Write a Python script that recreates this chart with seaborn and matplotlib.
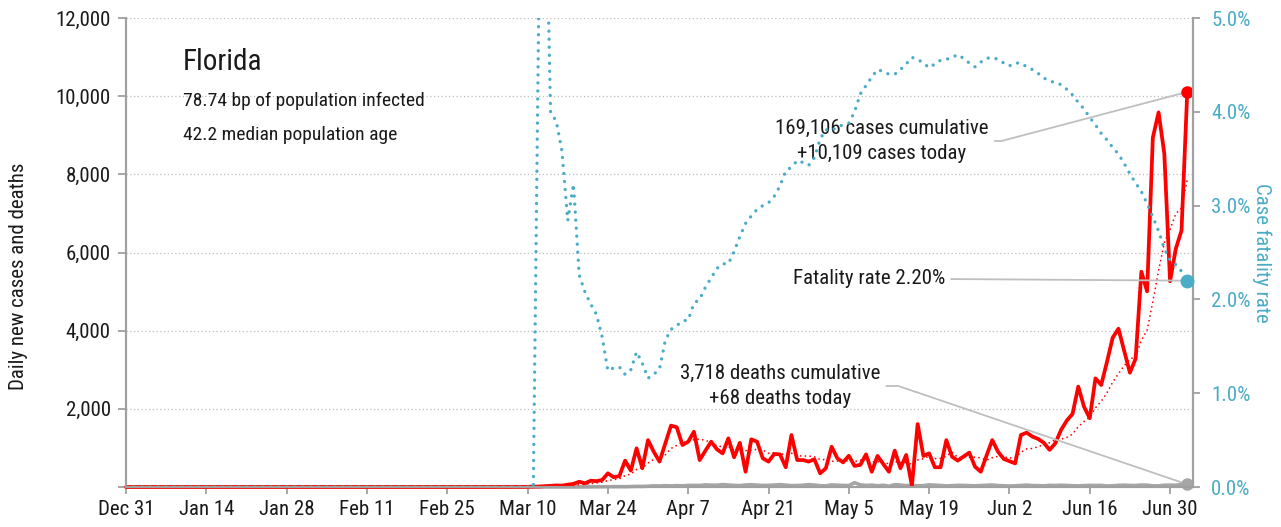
import matplotlib
matplotlib.use("Agg")
import matplotlib.pyplot as plt
from matplotlib import font_manager
import seaborn as sns
import pandas as pd

# ---- data --------------------------------------------------------------
first_day = "2019-12-31"

# daily new cases, starting Mar 1 2020
cases_start = "2020-03-01"
cases = [2, 0, 1, 0, 3, 2, 1, 4, 3, 5,
         10, 12, 20, 30, 40, 35, 60, 80, 135, 95,
         160, 150, 180, 350, 250, 280, 675, 420, 990, 480,
         1200, 900, 650, 1110, 1570, 1530, 1075, 1160, 1415, 690,
         930, 1160, 965, 860, 1245, 760, 1130, 390, 1220, 1160,
         735, 650, 845, 835, 505, 1330, 690, 690, 650, 710,
         350, 480, 1030, 735, 630, 800, 540, 565, 835, 390,
         795, 590, 390, 930, 480, 820, 30, 1610, 795, 860,
         505, 505, 1200, 775, 675, 780, 880, 520, 390, 800,
         1200, 905, 720, 660, 605, 1330, 1390, 1290, 1230, 1130,
         950, 1120, 1460, 1700, 1870, 2570, 2055, 1760, 2780, 2610,
         3200, 3820, 4050, 3490, 2925, 3285, 5510, 5005, 8940, 9585,
         8530, 5265, 6095, 6565, 10109]

# daily new deaths, starting Mar 12 2020
deaths_start = "2020-03-12"
deaths = [2, 0, 0, 1, 1, 2, 1, 2, 3, 2,
          5, 4, 5, 8, 9, 7, 12, 16, 15, 20,
          30, 25, 33, 28, 35, 30, 40, 42, 38, 55,
          48, 45, 62, 50, 40, 35, 52, 58, 47, 40,
          42, 50, 60, 47, 35, 38, 45, 60, 50, 33,
          28, 55, 45, 40, 36, 110, 55, 40, 48, 30,
          45, 20, 60, 50, 35, 42, 30, 35, 55, 48,
          38, 28, 35, 42, 40, 35, 30, 38, 45, 50,
          36, 32, 25, 30, 40, 48, 37, 35, 30, 42,
          38, 45, 40, 32, 28, 35, 43, 39, 41, 25,
          30, 42, 46, 40, 38, 50, 46, 30, 28, 45,
          48, 45, 67, 68]

# case fatality rate (%), starting Mar 11 2020
cfr_start = "2020-03-11"
cfr = [0, 5.4, 7.0, 4.0, 3.9, 3.58, 2.84, 3.23, 2.26, 2.08,
       1.95, 1.84, 1.60, 1.24, 1.27, 1.28, 1.20, 1.25, 1.44, 1.32,
       1.16, 1.20, 1.26, 1.56, 1.68, 1.72, 1.77, 1.78, 1.96, 2.00,
       2.13, 2.23, 2.33, 2.38, 2.38, 2.51, 2.67, 2.81, 2.89, 2.96,
       3.00, 3.03, 3.10, 3.21, 3.37, 3.41, 3.48, 3.46, 3.43, 3.51,
       3.71, 3.81, 3.80, 3.84, 3.86, 3.88, 4.00, 4.19, 4.28, 4.37,
       4.45, 4.43, 4.40, 4.40, 4.45, 4.51, 4.58, 4.56, 4.52, 4.47,
       4.51, 4.55, 4.56, 4.58, 4.61, 4.57, 4.52, 4.48, 4.53, 4.57,
       4.58, 4.56, 4.52, 4.49, 4.52, 4.52, 4.48, 4.45, 4.41, 4.36,
       4.33, 4.31, 4.29, 4.24, 4.18, 4.10, 4.03, 3.94, 3.86, 3.77,
       3.70, 3.62, 3.55, 3.45, 3.34, 3.24, 3.15, 3.02, 2.88, 2.73,
       2.54, 2.42, 2.37, 2.30, 2.20]

tick_dates = ["2019-12-31", "2020-01-14", "2020-01-28", "2020-02-11", "2020-02-25",
              "2020-03-10", "2020-03-24", "2020-04-07", "2020-04-21", "2020-05-05",
              "2020-05-19", "2020-06-02", "2020-06-16", "2020-06-30"]
tick_labels = ["Dec 31", "Jan 14", "Jan 28", "Feb 11", "Feb 25", "Mar 10", "Mar 24",
               "Apr 7", "Apr 21", "May 5", "May 19", "Jun 2", "Jun 16", "Jun 30"]

state = "Florida"
info_lines = ["78.74 bp of population infected", "42.2 median population age"]

# ---- build aligned series ------------------------------------------------
cases_s = pd.Series(cases, index=pd.date_range(cases_start, periods=len(cases), freq="D"))
dates = pd.date_range(first_day, cases_s.index[-1], freq="D")


def on_days(values, start):
    s = pd.Series(values, index=pd.date_range(start, periods=len(values), freq="D"))
    return s.reindex(dates, fill_value=0)


cases_s = on_days(cases, cases_start)
deaths_s = on_days(deaths, deaths_start)
cfr_s = on_days(cfr, cfr_start)
trend_s = cases_s.rolling(7, min_periods=1).mean()
last = dates[-1]

# ---- styling ---------------------------------------------------------------
sns.set_style("white")

# the original uses a condensed face; take one if it is installed
installed = {(f.name, f.stretch) for f in font_manager.fontManager.ttflist}
names = {n for n, _ in installed}
stretch = "normal"
if "Roboto Condensed" in names:
    family, fs, fs_info, fs_title = "Roboto Condensed", 15, 14, 21
elif "Liberation Sans Narrow" in names:
    family, fs, fs_info, fs_title = "Liberation Sans Narrow", 15, 14, 21
else:
    family, fs, fs_info, fs_title = "Liberation Sans", 13, 12.5, 19
plt.rcParams["font.family"] = [family, "DejaVu Sans"]
plt.rcParams["font.stretch"] = stretch
plt.rcParams["font.size"] = fs

RED = "#FF0000"
TEAL = "#4BACC6"
GREY = "#A6A6A6"
AXIS = "#A0A0A0"
INK = "#1A1A1A"

fig = plt.figure(figsize=(12.81, 5.27), dpi=100)
ax = fig.add_axes([0.0984, 0.0759, 0.8329, 0.8899])
ax2 = ax.twinx()

# left axis: cases and deaths
sns.lineplot(x=dates, y=deaths_s.values, ax=ax, color=GREY, lw=2.6, clip_on=False)
sns.lineplot(x=dates, y=trend_s.values, ax=ax, color=RED, lw=1.3,
             linestyle=(0, (0.01, 2.6)), dash_capstyle="round", clip_on=False)
sns.lineplot(x=dates, y=cases_s.values, ax=ax, color=RED, lw=2.7, clip_on=False)
ax.plot([last], [cases_s.iloc[-1]], "o", color=RED, ms=8, zorder=6, clip_on=False)
ax.plot([last], [deaths_s.iloc[-1]], "o", color=GREY, ms=8, zorder=6, clip_on=False)

# right axis: case fatality rate
sns.lineplot(x=dates, y=cfr_s.values, ax=ax2, color=TEAL, lw=2.4,
             linestyle=(0, (0.01, 2.4)), dash_capstyle="round")
ax2.plot([last], [cfr_s.iloc[-1]], "o", color=TEAL, ms=9, zorder=6, clip_on=False)

# axes limits / ticks
ax.set_xlim(pd.Timestamp(first_day), last + pd.Timedelta(days=1))
ax.set_ylim(0, 12000)
ax2.set_ylim(0, 5)

ax.set_xticks(pd.to_datetime(tick_dates))
ax.set_xticklabels(tick_labels)
yt = list(range(0, 12001, 2000))
ax.set_yticks(yt)
ax.set_yticklabels(["" if v == 0 else f"{v:,}" for v in yt])
rt = [0, 1, 2, 3, 4, 5]
ax2.set_yticks(rt)
ax2.set_yticklabels([f"{v:.1f}%" for v in rt])

ax.tick_params(axis="x", length=5, width=1.3, color=AXIS, labelsize=fs,
               labelcolor=INK, pad=4, bottom=True)
ax.tick_params(axis="y", length=6, width=1.3, color=AXIS, labelsize=fs,
               labelcolor=INK, pad=5, left=True)
ax2.tick_params(axis="y", length=5, width=1.3, color=AXIS, labelsize=fs,
                labelcolor=TEAL, pad=8, right=True)

ax.yaxis.grid(True, color="#BDBDBD", lw=0.9, linestyle=(0, (1, 2)))
ax.xaxis.grid(False)
ax2.grid(False)

for a in (ax, ax2):
    a.spines["top"].set_visible(False)
    for side in ("left", "right", "bottom"):
        a.spines[side].set_color(AXIS)
        a.spines[side].set_linewidth(1.5)

ax.set_xlabel("")
ax.set_ylabel("Daily new cases and deaths", fontsize=fs, color=INK)
ax.yaxis.label.set(ha="center", va="center", rotation_mode="anchor")
ax.yaxis.set_label_coords(-0.1012, 0.45)
ax2.set_ylabel("Case fatality rate", fontsize=fs, color=TEAL, rotation=270)
ax2.yaxis.label.set(ha="center", va="center", rotation_mode="anchor")
ax2.yaxis.set_label_coords(1.0647, 0.499)

# header text
ax.text(0.0534, 0.889, state, transform=ax.transAxes, fontsize=fs_title, color=INK)
ax.text(0.0534, 0.812, info_lines[0], transform=ax.transAxes, fontsize=fs_info, color=INK)
ax.text(0.0534, 0.740, info_lines[1], transform=ax.transAxes, fontsize=fs_info, color=INK)

# callouts
lead = dict(arrowstyle="-", color="#BFBFBF", lw=1.3, shrinkA=2, shrinkB=0,
            relpos=(1, 0.5))
ax.annotate("169,106 cases cumulative\n+10,109 cases today",
            xy=(last, cases_s.iloc[-1]), xytext=(882, 386), textcoords="figure pixels",
            ha="center", va="center", fontsize=fs, color=INK, linespacing=1.45,
            arrowprops=dict(lead, connectionstyle="angle,angleA=0,angleB=14.8,rad=0"))
ax.annotate("3,718 deaths cumulative\n+68 deaths today",
            xy=(last, deaths_s.iloc[-1]), xytext=(780, 141), textcoords="figure pixels",
            ha="center", va="center", fontsize=fs, color=INK, linespacing=1.45,
            arrowprops=dict(lead, connectionstyle="angle,angleA=0,angleB=-18.8,rad=0"))
ax2.annotate("Fatality rate 2.20%",
             xy=(last, cfr_s.iloc[-1]), xytext=(945, 248), textcoords="figure pixels",
             ha="right", va="center", fontsize=fs, color=INK,
             arrowprops=dict(lead, connectionstyle="arc3"))

fig.savefig("out.png", dpi=100)
